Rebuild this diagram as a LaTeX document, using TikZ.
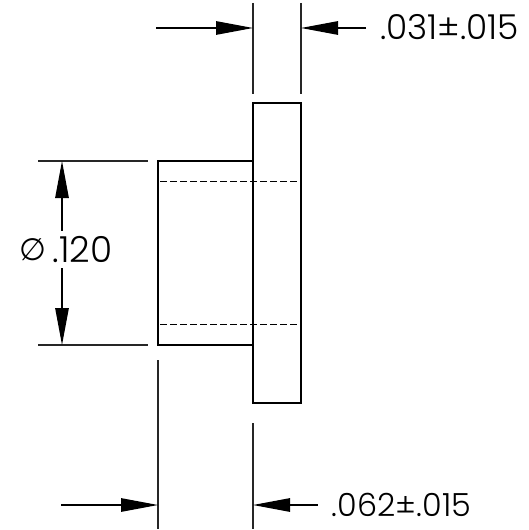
\documentclass[tikz,border=0pt]{standalone}
\usepackage{fontspec}
\setmainfont{Poppins Light}
\newfontfamily\symf{DejaVu Sans}
\usetikzlibrary{arrows.meta}
\tikzset{
  part/.style={line width=1.9bp,black},
  hidden/.style={line width=1.1bp,black,dash pattern=on 6.5bp off 3.5bp},
  extline/.style={line width=1.2bp,black!85},
  dimline/.style={line width=1.2bp,black,-{Triangle[length=37bp,width=13.5bp]}},
  dimtext/.style={inner sep=0pt,anchor=base west,font=\fontsize{32.5}{36}\selectfont}
}
\begin{document}
\begin{tikzpicture}[x=1bp,y=-1bp]
\useasboundingbox (0,0) rectangle (529,530);
% part
\coordinate (f1) at (253,103); \coordinate (f2) at (301,103);
\coordinate (f3) at (301,403); \coordinate (f4) at (253,403);
\coordinate (h1) at (253,161); \coordinate (h2) at (158,161);
\coordinate (h3) at (158,345); \coordinate (h4) at (253,345);
\draw[part] (f1) -- (f2) -- (f3) -- (f4) -- cycle;
\draw[part] (h1) -- (h2) -- (h3) -- (h4);
\coordinate (d1) at (160,181.5); \coordinate (d2) at (301,181.5);
\coordinate (d3) at (160,324.5); \coordinate (d4) at (301,324.5);
\draw[hidden] (d1) -- (d2);
\draw[hidden] (d3) -- (d4);
% top dimension
\coordinate (ta) at (253,3); \coordinate (tb) at (253,94);
\coordinate (tc) at (301,3); \coordinate (td) at (301,94);
\draw[extline] (ta) -- (tb);
\draw[extline] (tc) -- (td);
\coordinate (t1) at (156,28); \coordinate (t2) at (253,28);
\coordinate (t3) at (366,28); \coordinate (t4) at (301,28);
\draw[dimline] (t1) -- (t2);
\draw[dimline] (t3) -- (t4);
\node[dimtext,font=\fontsize{34.5}{38}\selectfont] (toplabel) at (380,40) {.031±.015};
% left dimension
\coordinate (la) at (38,161); \coordinate (lb) at (148,161);
\coordinate (lc) at (38,345); \coordinate (ld) at (148,345);
\draw[extline] (la) -- (lb);
\draw[extline] (lc) -- (ld);
\coordinate (l1) at (62,230.7); \coordinate (l2) at (62,161);
\coordinate (l3) at (62,268); \coordinate (l4) at (62,345);
\draw[dimline] (l1) -- (l2);
\draw[dimline] (l3) -- (l4);
\node[dimtext,font=\fontsize{36}{40}\selectfont] (leftlabel) at (52.5,262) {.120};
\node[inner sep=0pt,font=\symf\fontsize{31}{35}\selectfont] (phi) at (32.5,250) {∅};
% bottom dimension
\coordinate (ba) at (158,360); \coordinate (bb) at (158,529);
\coordinate (bc) at (253,423); \coordinate (bd) at (253,529);
\draw[extline] (ba) -- (bb);
\draw[extline] (bc) -- (bd);
\coordinate (b1) at (61,505); \coordinate (b2) at (158,505);
\coordinate (b3) at (317.7,505); \coordinate (b4) at (253,505);
\draw[dimline] (b1) -- (b2);
\draw[dimline] (b3) -- (b4);
\node[dimtext,font=\fontsize{32}{36}\selectfont] (botlabel) at (331.7,516.7) {.062±.015};
\end{tikzpicture}
\end{document}
